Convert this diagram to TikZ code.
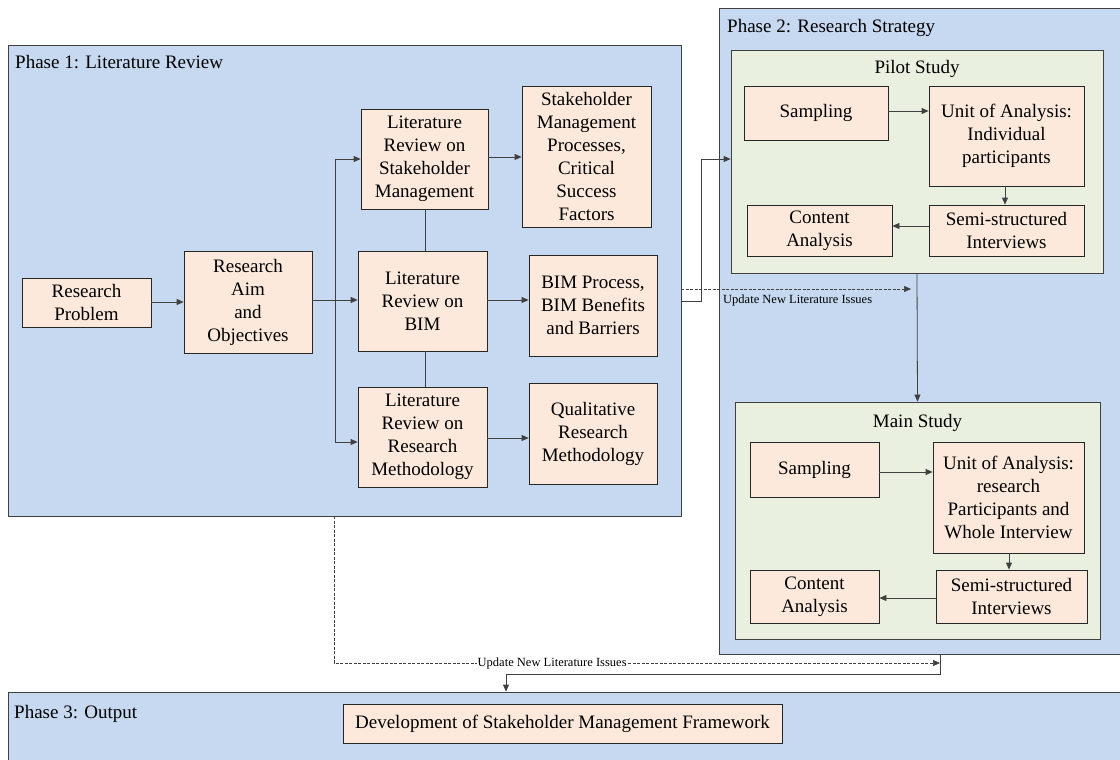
\documentclass[tikz,border=0pt]{standalone}
\usepackage{fontspec}
\setmainfont{Liberation Serif}
\usetikzlibrary{arrows.meta,calc}
\definecolor{phaseblue}{RGB}{198,217,240}
\definecolor{studygreen}{RGB}{234,240,223}
\definecolor{boxpeach}{RGB}{252,233,219}
\definecolor{linegray}{RGB}{64,64,64}
\begin{document}
\begin{tikzpicture}[x=1pt,y=-1pt,
  every node/.style={font=\fontsize{19}{23}\selectfont},
  wh/.style 2 args={minimum width=#1pt, minimum height=#2pt},
  phase/.style={draw=linegray, line width=0.8pt, fill=phaseblue, inner sep=0pt},
  study/.style={draw=linegray, line width=0.8pt, fill=studygreen, inner sep=0pt},
  box/.style={draw=black!85, line width=0.8pt, fill=boxpeach, inner sep=0pt, align=center},
  title/.style={anchor=base west, inner sep=0pt},
  ctitle/.style={anchor=base, inner sep=0pt},
  arr/.style={draw=linegray, line width=0.8pt, -{Triangle[length=7pt,width=6pt]}},
  link/.style={draw=linegray, line width=0.8pt},
  dsh/.style={dash pattern=on 3pt off 1.5pt, line width=0.6pt},
  small/.style={font=\fontsize{12.5}{14}\selectfont, inner sep=1pt}]
\useasboundingbox (0,0) rectangle (1120,760);

% containers
\node[phase, wh={673}{471}] (p1) at (344.5,280.5) {};
\node[phase, wh={411}{646}] (p2) at (924.5,331) {};
\node[phase, wh={1122}{78}] (p3) at (569,731) {};
\node[study, wh={372}{223}] (pilot) at (917,161.5) {};
\node[study, wh={365}{237}] (main) at (917.5,520.5) {};

\node[title] (t1) at (15,69) {Phase 1: Literature Review};
\node[title] (t2) at (727,33) {Phase 2: Research Strategy};
\node[title] (t3) at (14,718) {Phase 3: Output};
\node[ctitle] (tp) at (917,74) {Pilot Study};
\node[ctitle] (tm) at (917.5,427) {Main Study};

% phase 1 boxes
\node[box, wh={129}{49}] (rp) at (86.5,302.5) {Research\\Problem};
\node[box, wh={128}{102}] (ra) at (248,302) {Research\\Aim\\and\\Objectives};
\node[box, wh={127}{100}] (lrsm) at (424.5,159) {Literature\\Review on\\Stakeholder\\Management};
\node[box, wh={129}{141}] (smp) at (586.5,156.5) {Stakeholder\\Management\\Processes,\\Critical\\Success\\Factors};
\node[box, wh={129}{100}] (lrbim) at (422.5,301) {Literature\\Review on\\BIM};
\node[box, wh={128}{101}] (bimp) at (593,305.5) {BIM Process,\\BIM Benefits\\and Barriers};
\node[box, wh={129}{100}] (lrrm) at (422.5,437) {Literature\\Review on\\Research\\Methodology};
\node[box, wh={128}{101}] (qrm) at (593,433.5) {Qualitative\\Research\\Methodology};

% pilot study boxes
\node[box, wh={144}{54}] (psamp) at (816,113) {Sampling};
\node[box, wh={155}{100}] (punit) at (1006.5,136) {Unit of Analysis:\\Individual\\participants};
\node[box, wh={155}{51}] (psemi) at (1006.5,230.5) {Semi-structured\\Interviews};
\node[box, wh={145}{51}] (pcont) at (819.5,230.5) {Content\\Analysis};

% main study boxes
\node[box, wh={129}{55}] (msamp) at (814.5,469.5) {Sampling};
\node[box, wh={151}{111}] (munit) at (1008.5,497.5) {Unit of Analysis:\\research\\Participants and\\Whole Interview};
\node[box, wh={151}{53}] (msemi) at (1011.5,596.5) {Semi-structured\\Interviews};
\node[box, wh={129}{53}] (mcont) at (814.5,596.5) {Content\\Analysis};

% phase 3 box
\node[box, wh={439}{39}] (dev) at (562.5,723.5) {Development of Stakeholder Management Framework};

% coordinates
\coordinate (bx) at (335,300);
\coordinate (jx) at (701,301);
\coordinate (d1) at (911,289);
\coordinate (d2s) at (334,663);
\coordinate (d2) at (940,663);
\coordinate (j1) at (940,674);
\coordinate (j2) at (506,674);

% phase 1 connectors
\draw[arr] (rp.east |- 0,302) -- (ra.west |- 0,302);
\draw[arr] (ra.east |- bx) -- (lrbim.west |- bx);
\draw[arr] (bx) |- (lrsm.west);
\draw[arr] (bx) |- ($(lrrm.west)+(0,5)$);
\draw[link] (lrsm.south -| 425,0) -- (lrbim.north -| 425,0);
\draw[link] (lrbim.south -| 425,0) -- (lrrm.north -| 425,0);
\draw[arr] (lrsm.east |- 0,157) -- (smp.west |- 0,157);
\draw[arr] (lrbim.east |- 0,300) -- (bimp.west |- 0,300);
\draw[arr] (lrrm.east |- 0,438) -- (qrm.west |- 0,438);

% phase 1 to pilot
\draw[arr] (p1.east |- jx) -- (jx) |- (pilot.west |- 0,159);
\draw[arr, dsh] (p1.east |- d1) -- (d1);
\node[small, anchor=west] (u1) at (722,300) {Update New Literature Issues};

% pilot internals
\draw[arr] (psamp.east |- 0,111) -- (punit.west |- 0,111);
\draw[arr] (punit.south -| 1005,0) -- (psemi.north -| 1005,0);
\draw[arr] (psemi.west |- 0,226) -- (pcont.east |- 0,226);

% pilot to main
\draw[arr] (pilot.south) -- (main.north);

% main internals
\draw[arr] (msamp.east |- 0,472) -- (munit.west |- 0,472);
\draw[arr] (munit.south -| 1009,0) -- (msemi.north -| 1009,0);
\draw[arr] (msemi.west |- 0,598) -- (mcont.east |- 0,598);

% bottom connectors
\draw[arr, dsh] (p1.south -| d2s) -- (d2s) -- node[small, pos=0.36, fill=white] (u2) {Update New Literature Issues} (d2);
\draw[arr] (p2.south -| j1) -- (j1) -- (j2) -- (j2 |- p3.north);
\end{tikzpicture}
\end{document}
